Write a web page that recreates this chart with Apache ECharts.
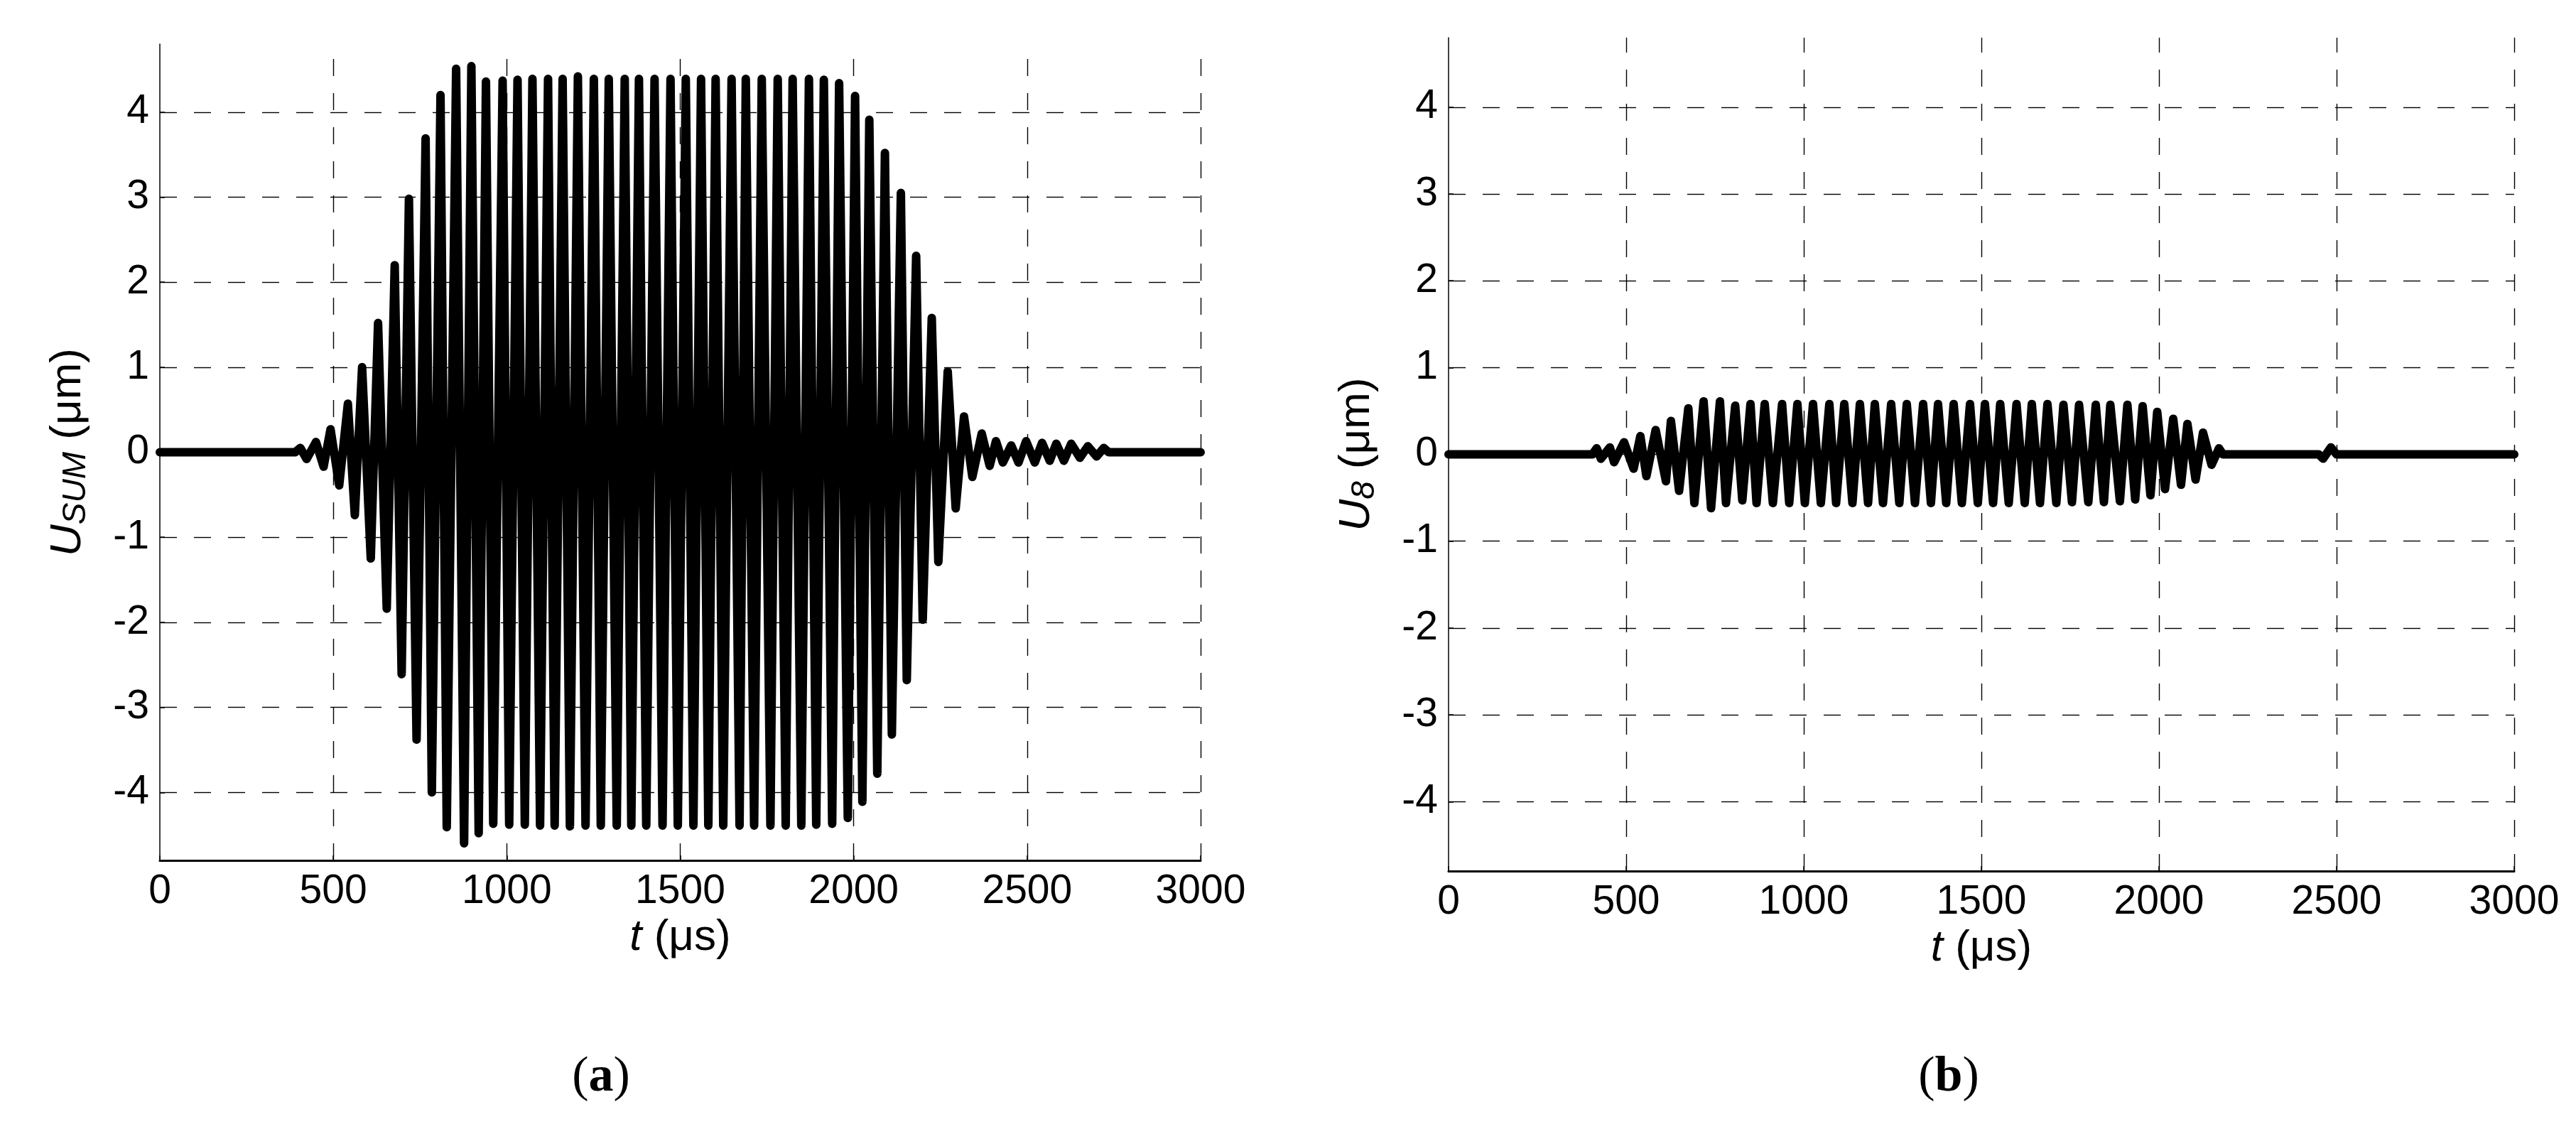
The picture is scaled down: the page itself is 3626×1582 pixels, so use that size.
<!DOCTYPE html>
<html>
<head>
<meta charset="utf-8">
<script src="https://cdn.jsdelivr.net/npm/echarts@6/dist/echarts.min.js"></script>
<style>
html,body{margin:0;padding:0;background:#fff;}
#chart{width:3626px;height:1582px;}
</style>
</head>
<body>
<div id="chart"></div>
<script>
// ---- Data (t in µs, displacement in µm) ----
// (a) U_SUM: successive extrema of the burst
const sumT = [0, 390, 405, 423, 450, 472, 492, 517, 542, 562, 583, 608, 629, 654, 677, 697, 718, 740, 766, 784,
  809, 827, 854, 877, 898, 919, 940, 961, 988, 1007, 1031, 1052, 1074, 1096, 1119, 1138, 1161, 1182, 1205, 1227,
  1251, 1271, 1294, 1317, 1340, 1359, 1381, 1402, 1426, 1449, 1472, 1493, 1516, 1538, 1560, 1581, 1602, 1624,
  1648, 1671, 1689, 1713, 1735, 1760, 1781, 1804, 1824, 1849, 1871, 1892, 1914, 1938, 1958, 1983, 2004, 2025,
  2045, 2068, 2090, 2110, 2136, 2153, 2180, 2199, 2225, 2244, 2271, 2294, 2318, 2342, 2369, 2392, 2410, 2430,
  2454, 2475, 2497, 2522, 2543, 2565, 2584, 2606, 2627, 2652, 2675, 2700, 2721, 2735, 3000];
const sumU = [0, 0, 0.05, -0.08, 0.12, -0.17, 0.27, -0.39, 0.57, -0.74, 1.0, -1.25, 1.52, -1.84, 2.2, -2.61, 2.98, -3.38, 3.69, -4.0,
  4.2, -4.41, 4.51, -4.6, 4.54, -4.48, 4.36, -4.37, 4.37, -4.38, 4.38, -4.38, 4.39, -4.39, 4.39, -4.39, 4.39, -4.4, 4.42, -4.39,
  4.39, -4.39, 4.39, -4.39, 4.39, -4.39, 4.39, -4.39, 4.39, -4.39, 4.39, -4.39, 4.39, -4.39, 4.39, -4.39, 4.39, -4.39,
  4.39, -4.39, 4.39, -4.39, 4.39, -4.39, 4.39, -4.39, 4.39, -4.39, 4.39, -4.38, 4.38, -4.37, 4.34, -4.3, 4.19, -4.11,
  3.91, -3.78, 3.52, -3.32, 3.05, -2.68, 2.31, -1.97, 1.58, -1.29, 0.95, -0.66, 0.42, -0.29, 0.22, -0.16, 0.13, -0.12,
  0.08, -0.12, 0.13, -0.12, 0.11, -0.1, 0.1, -0.1, 0.1, -0.065, 0.07, -0.05, 0.05, 0, 0];

// (b) U_8: successive extrema of the burst
const u8T = [0, 405, 417, 429, 454, 466, 494, 521, 540, 557, 583, 612, 626, 649, 675, 692, 718, 739, 764, 781,
  807, 827, 850, 867, 890, 913, 939, 959, 982, 1003, 1026, 1048, 1072, 1091, 1114, 1137, 1158, 1181, 1200, 1223,
  1246, 1269, 1290, 1313, 1336, 1358, 1378, 1401, 1422, 1445, 1468, 1490, 1510, 1533, 1553, 1577, 1599, 1622,
  1642, 1665, 1686, 1711, 1731, 1755, 1775, 1801, 1822, 1845, 1863, 1890, 1911, 1933, 1954, 1976, 1995, 2017,
  2040, 2062, 2080, 2103, 2124, 2148, 2169, 2180, 2450, 2462, 2484, 2500, 3000];
const u8U = [0, 0, 0.07, -0.05, 0.08, -0.09, 0.14, -0.165, 0.21, -0.25, 0.28, -0.31, 0.385, -0.42, 0.53, -0.56, 0.61, -0.62, 0.61, -0.56,
  0.56, -0.53, 0.58, -0.56, 0.58, -0.56, 0.58, -0.56, 0.58, -0.56, 0.58, -0.56, 0.58, -0.56, 0.58, -0.56, 0.58, -0.56, 0.58, -0.56,
  0.58, -0.56, 0.58, -0.56, 0.58, -0.56, 0.58, -0.56, 0.58, -0.56, 0.58, -0.56, 0.58, -0.56, 0.58, -0.56, 0.58, -0.56,
  0.58, -0.56, 0.58, -0.56, 0.57, -0.55, 0.57, -0.55, 0.57, -0.55, 0.57, -0.54, 0.57, -0.52, 0.555, -0.47, 0.49, -0.40,
  0.41, -0.35, 0.35, -0.29, 0.25, -0.12, 0.07, 0, 0, -0.05, 0.08, 0, 0];

const xRange = [0, 3000];
const xStep = 500;
const yRange = [-4.8, 4.8];
const panelLabels = ['a', 'b'];
const yNames = ['{i|U}{s|SUM} {n|(\u03bcm)}', '{i|U}{s|8} {n|(\u03bcm)}'];
const xName = '{i|t} {n|(\u03bcs)}';

// ---- Styling ----
const FONT = 'Liberation Sans';
const nameStyle = {
  fontFamily: FONT, fontSize: 62, color: '#000',
  rich: {
    i: { fontFamily: FONT, fontSize: 62, fontStyle: 'italic', color: '#000' },
    s: { fontFamily: FONT, fontSize: 46, fontStyle: 'italic', color: '#000', verticalAlign: 'bottom', padding: [22, 0, 0, 0] },
    n: { fontFamily: FONT, fontSize: 62, color: '#000' }
  }
};
const dash = { color: '#000', width: 1.4, type: [24, 24] };

function xAxisCfg(gi, gridH) {
  return {
    gridIndex: gi, type: 'value', min: xRange[0], max: xRange[1], interval: xStep,
    name: xName, nameLocation: 'middle', nameGap: 78, nameTextStyle: nameStyle,
    axisLine: { onZero: false, lineStyle: { color: '#000', width: 3 } },
    axisTick: { show: true, inside: true, length: 7, lineStyle: { color: '#000', width: 1.5 } },
    axisLabel: { fontFamily: FONT, fontSize: 57, color: '#000', margin: 16, formatter: v => String(v) },
    splitLine: { show: true, showMinLine: false, showMaxLine: true,
      lineStyle: Object.assign({}, dash, { dashOffset: 24 - (gridH % 48) }) }
  };
}
function yAxisCfg(gi, nm) {
  return {
    gridIndex: gi, type: 'value', min: yRange[0], max: yRange[1], splitNumber: 10, minInterval: 1, maxInterval: 1,
    name: nm, nameLocation: 'middle', nameGap: 95, nameTextStyle: nameStyle,
    axisLine: { show: true, lineStyle: { color: '#000', width: 1.5 } },
    axisTick: { show: true, inside: true, length: 7, lineStyle: { color: '#000', width: 1.5 } },
    axisLabel: { fontFamily: FONT, fontSize: 57, color: '#000', margin: 15, showMinLabel: false, showMaxLabel: false,
      formatter: v => String(v) },
    splitLine: { show: true, showMinLine: false, showMaxLine: false, lineStyle: dash }
  };
}
function lineSeries(gi, T, U) {
  return {
    type: 'line', xAxisIndex: gi, yAxisIndex: gi,
    data: T.map((t, k) => [t, U[k]]),
    showSymbol: false, symbol: 'none', smooth: false, animation: false,
    lineStyle: { color: '#000', width: 12, join: 'round', cap: 'round' }
  };
}

const grids = [
  { left: 225, top: 62, width: 1465, height: 1149 },
  { left: 2039, top: 53, width: 1500, height: 1173 }
];

const chart = echarts.init(document.getElementById('chart'), null, { renderer: 'canvas' });
chart.setOption({
  backgroundColor: '#fff',
  animation: false,
  grid: grids,
  xAxis: [xAxisCfg(0, grids[0].height), xAxisCfg(1, grids[1].height)],
  yAxis: [yAxisCfg(0, yNames[0]), yAxisCfg(1, yNames[1])],
  series: [lineSeries(0, sumT, sumU), lineSeries(1, u8T, u8U)],
  graphic: panelLabels.map((p, k) => ({
    type: 'text', x: k === 0 ? 846 : 2743, y: 1517,
    style: {
      text: '{p|(}{b|' + p + '}{p|)}', align: 'center', verticalAlign: 'middle',
      rich: {
        p: { fontFamily: 'Liberation Serif', fontSize: 70, fill: '#000', color: '#000' },
        b: { fontFamily: 'Liberation Serif', fontSize: 70, fontWeight: 'bold', fill: '#000', color: '#000' }
      }
    }
  }))
});
</script>
</body>
</html>
